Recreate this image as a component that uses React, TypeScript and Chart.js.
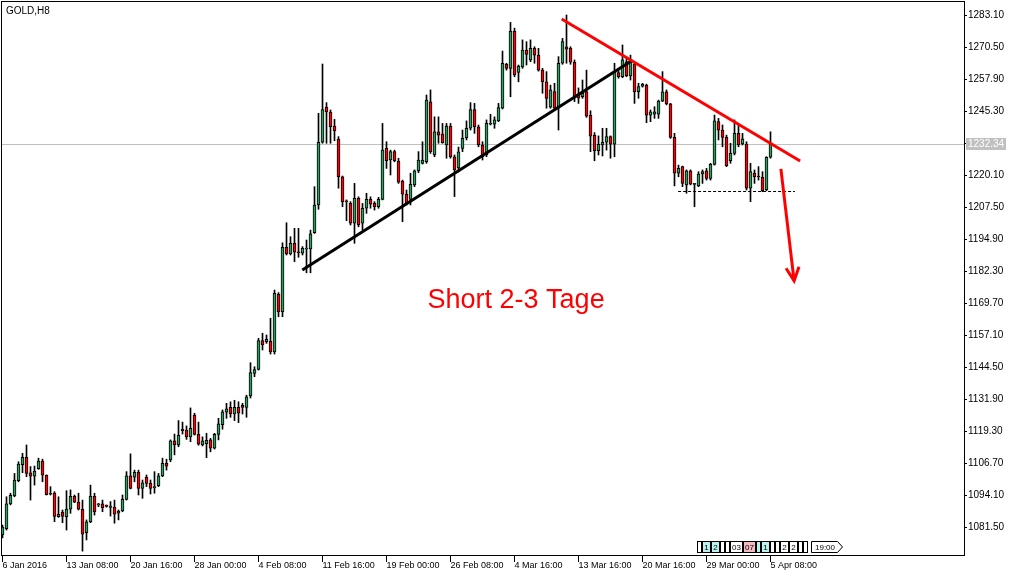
import React, { useEffect, useRef } from "react";
import { Chart, registerables } from "chart.js";

Chart.register(...registerables);

// ---- DATA (GOLD, H8 candles) ----
const symbolTitle = "GOLD,H8";

const opens = [
  1078.4, 1080.8, 1090.6, 1093.7, 1099.7, 1106.0, 1108.9, 1102.8, 1101.5, 1104.5,
  1107.5, 1101.9, 1094.4, 1094.9, 1085.6, 1087.4, 1085.6, 1088.5, 1093.6, 1091.3,
  1088.5, 1079.3, 1083.5, 1093.6, 1090.2, 1090.6, 1089.7, 1089.2, 1089.3, 1086.9,
  1087.8, 1092.4, 1101.6, 1101.1, 1103.0, 1096.7, 1101.1, 1098.7, 1097.0, 1097.8,
  1101.6, 1106.6, 1107.9, 1115.4, 1113.8, 1119.4, 1119.7, 1117.0, 1125.6, 1118.0,
  1113.8, 1114.3, 1115.8, 1112.5, 1118.0, 1121.8, 1126.7, 1128.6, 1126.0, 1128.6,
  1129.4, 1128.6, 1133.1, 1142.0, 1143.5, 1154.9, 1154.5, 1154.6, 1150.4, 1173.1,
  1166.3, 1191.6, 1189.0, 1193.2, 1189.8, 1189.3, 1190.9, 1191.0, 1197.4, 1208.3,
  1233.0, 1246.8, 1244.9, 1239.4, 1234.2, 1219.4, 1209.7, 1208.9, 1201.1, 1210.9,
  1201.1, 1207.0, 1210.5, 1208.9, 1207.6, 1210.5, 1230.6, 1226.0, 1229.3, 1225.6,
  1217.7, 1212.6, 1210.5, 1216.2, 1221.7, 1224.7, 1225.3, 1248.9, 1228.0, 1237.1,
  1236.2, 1231.9, 1239.4, 1227.3, 1222.9, 1230.6, 1234.8, 1238.5, 1245.9, 1239.1,
  1231.9, 1228.0, 1240.1, 1240.1, 1241.4, 1246.4, 1263.7, 1262.1, 1276.8, 1260.5,
  1262.7, 1269.3, 1265.4, 1270.0, 1267.3, 1261.4, 1256.8, 1246.8, 1252.9, 1246.4,
  1264.1, 1270.6, 1270.0, 1264.5, 1252.0, 1250.9, 1252.9, 1243.6, 1235.7, 1229.7,
  1231.9, 1233.0, 1235.2, 1232.2, 1260.4, 1258.8, 1264.7, 1259.1, 1263.8, 1252.9,
  1255.1, 1255.5, 1243.7, 1244.1, 1244.1, 1249.2, 1252.8, 1248.1, 1234.9, 1220.8,
  1223.4, 1216.2, 1221.7, 1216.4, 1215.8, 1220.5, 1221.7, 1218.8, 1224.3, 1241.1,
  1237.8, 1234.9, 1225.7, 1228.6, 1236.5, 1232.3, 1232.3, 1214.9, 1220.8, 1219.5,
  1219.2, 1214.2, 1227.1,
];

const highs = [
  1082.3, 1093.4, 1094.8, 1102.6, 1107.2, 1110.5, 1113.8, 1105.3, 1105.5, 1108.6,
  1108.2, 1102.0, 1097.4, 1095.4, 1093.4, 1088.2, 1095.8, 1096.1, 1094.1, 1094.8,
  1092.1, 1084.3, 1098.0, 1094.8, 1090.8, 1092.1, 1090.2, 1091.5, 1092.1, 1088.2,
  1094.1, 1103.3, 1110.3, 1103.9, 1103.9, 1100.0, 1102.0, 1100.0, 1103.3, 1102.6,
  1108.6, 1108.2, 1115.8, 1118.1, 1123.4, 1122.8, 1121.3, 1128.4, 1126.3, 1122.8,
  1117.0, 1118.4, 1116.4, 1118.4, 1124.3, 1127.6, 1130.2, 1130.8, 1131.4, 1130.8,
  1130.2, 1133.4, 1146.2, 1144.6, 1155.8, 1157.8, 1157.1, 1163.7, 1174.8, 1173.8,
  1193.4, 1201.3, 1195.8, 1199.1, 1199.1, 1191.9, 1194.5, 1198.4, 1215.5, 1244.4,
  1263.8, 1248.6, 1245.7, 1242.0, 1235.2, 1219.7, 1210.3, 1209.6, 1216.8, 1211.5,
  1208.9, 1212.9, 1211.5, 1209.6, 1211.3, 1240.4, 1233.2, 1229.9, 1229.9, 1226.7,
  1218.1, 1214.2, 1220.8, 1222.1, 1229.3, 1233.2, 1251.6, 1253.6, 1243.0, 1243.0,
  1240.4, 1240.4, 1240.4, 1228.0, 1231.1, 1237.8, 1241.4, 1248.6, 1248.3, 1239.8,
  1233.2, 1241.8, 1244.0, 1243.0, 1248.3, 1268.9, 1264.1, 1280.2, 1277.9, 1263.4,
  1273.3, 1272.6, 1273.3, 1270.6, 1270.0, 1262.1, 1260.8, 1255.5, 1256.2, 1266.7,
  1273.9, 1283.1, 1270.6, 1265.4, 1254.4, 1257.5, 1261.4, 1245.4, 1236.8, 1235.5,
  1238.5, 1238.5, 1235.5, 1264.1, 1261.4, 1271.3, 1266.4, 1267.3, 1264.1, 1256.2,
  1256.2, 1255.9, 1245.7, 1247.0, 1249.6, 1260.8, 1253.6, 1248.3, 1236.5, 1224.0,
  1223.6, 1222.1, 1222.1, 1216.8, 1221.4, 1222.1, 1222.7, 1224.7, 1243.7, 1242.4,
  1239.8, 1235.8, 1232.6, 1241.8, 1239.8, 1236.5, 1233.2, 1224.7, 1222.1, 1223.4,
  1221.4, 1227.3, 1237.1,
];

const lows = [
  1077.2, 1080.3, 1090.2, 1093.4, 1099.3, 1102.9, 1101.3, 1092.1, 1098.0, 1104.2,
  1099.3, 1094.1, 1094.1, 1083.6, 1085.3, 1083.2, 1080.3, 1086.9, 1091.1, 1088.2,
  1072.0, 1076.4, 1083.2, 1086.2, 1089.5, 1087.5, 1089.3, 1085.8, 1083.0, 1084.3,
  1087.5, 1092.1, 1096.5, 1099.3, 1094.1, 1092.8, 1097.4, 1094.5, 1094.8, 1097.4,
  1101.3, 1103.9, 1107.2, 1109.9, 1113.1, 1118.1, 1116.0, 1115.1, 1117.7, 1113.7,
  1113.4, 1108.8, 1111.1, 1112.2, 1115.8, 1120.0, 1124.3, 1124.7, 1123.4, 1122.6,
  1126.0, 1124.7, 1132.3, 1140.7, 1143.3, 1151.2, 1153.8, 1149.6, 1149.6, 1164.3,
  1164.3, 1188.6, 1188.6, 1186.0, 1187.7, 1188.6, 1181.6, 1181.6, 1197.1, 1206.6,
  1232.6, 1232.6, 1232.6, 1233.6, 1214.9, 1207.6, 1202.1, 1200.4, 1193.2, 1199.7,
  1198.4, 1205.0, 1207.0, 1206.3, 1207.0, 1210.3, 1222.7, 1220.1, 1225.3, 1216.8,
  1201.7, 1208.3, 1208.3, 1215.5, 1221.0, 1224.4, 1224.7, 1228.6, 1227.3, 1232.6,
  1232.6, 1226.7, 1226.7, 1211.6, 1221.3, 1229.3, 1233.9, 1237.8, 1236.5, 1231.2,
  1226.0, 1227.3, 1239.8, 1238.5, 1241.1, 1246.1, 1261.4, 1250.9, 1258.8, 1256.8,
  1262.1, 1263.4, 1264.7, 1264.1, 1261.0, 1252.3, 1246.4, 1246.4, 1246.1, 1237.8,
  1263.7, 1264.1, 1263.7, 1249.0, 1248.3, 1250.3, 1242.8, 1229.3, 1225.7, 1228.0,
  1227.6, 1229.9, 1226.7, 1227.3, 1258.2, 1258.4, 1258.8, 1257.5, 1248.3, 1250.3,
  1254.7, 1240.7, 1241.1, 1242.4, 1242.4, 1249.0, 1247.7, 1234.5, 1215.8, 1219.4,
  1215.5, 1212.9, 1216.2, 1207.6, 1215.5, 1216.8, 1218.1, 1218.1, 1224.0, 1233.9,
  1231.2, 1223.4, 1224.7, 1228.0, 1231.2, 1231.9, 1214.2, 1209.6, 1216.8, 1218.1,
  1213.5, 1213.9, 1226.7,
];

const closes = [
  1081.5, 1090.6, 1094.0, 1100.0, 1106.3, 1108.9, 1102.6, 1101.5, 1103.5, 1107.5,
  1101.9, 1094.2, 1094.8, 1085.7, 1086.5, 1085.7, 1088.6, 1093.6, 1091.3, 1088.5,
  1078.7, 1083.5, 1093.6, 1087.5, 1090.4, 1089.1, 1089.6, 1089.4, 1086.6, 1087.8,
  1092.4, 1101.6, 1096.7, 1103.0, 1096.7, 1098.9, 1098.7, 1096.7, 1097.2, 1101.6,
  1106.6, 1105.5, 1115.4, 1113.8, 1117.6, 1120.0, 1117.0, 1120.4, 1118.0, 1114.1,
  1115.4, 1115.6, 1112.5, 1118.0, 1122.1, 1126.8, 1128.0, 1126.0, 1128.6, 1126.3,
  1128.6, 1132.8, 1142.3, 1143.5, 1154.9, 1153.2, 1155.4, 1150.4, 1173.5, 1166.3,
  1191.6, 1189.0, 1193.2, 1189.7, 1189.5, 1191.2, 1191.0, 1196.9, 1208.3, 1233.0,
  1245.9, 1244.9, 1239.1, 1237.5, 1219.4, 1209.6, 1209.5, 1201.1, 1210.9, 1200.4,
  1207.0, 1210.5, 1208.6, 1207.6, 1210.5, 1229.9, 1225.7, 1229.3, 1225.7, 1217.3,
  1212.6, 1208.9, 1216.4, 1221.7, 1226.0, 1226.0, 1249.6, 1229.3, 1237.1, 1235.8,
  1232.8, 1239.4, 1227.3, 1222.1, 1229.2, 1234.5, 1238.5, 1245.9, 1239.1, 1231.9,
  1227.3, 1240.4, 1240.4, 1241.8, 1246.6, 1264.1, 1262.1, 1276.8, 1259.5, 1263.0,
  1269.3, 1267.6, 1270.0, 1267.3, 1261.4, 1256.8, 1250.3, 1253.6, 1246.4, 1264.1,
  1272.6, 1269.6, 1264.5, 1251.2, 1250.4, 1252.3, 1243.3, 1235.4, 1229.7, 1232.2,
  1233.0, 1235.2, 1232.2, 1260.8, 1258.8, 1265.4, 1259.1, 1265.7, 1252.9, 1254.9,
  1255.9, 1243.7, 1245.0, 1245.0, 1249.2, 1252.8, 1248.1, 1234.9, 1220.8, 1222.7,
  1216.8, 1221.7, 1216.5, 1216.5, 1220.5, 1221.4, 1218.8, 1224.3, 1241.4, 1237.8,
  1234.9, 1223.8, 1228.6, 1236.5, 1231.9, 1234.3, 1214.9, 1221.4, 1219.4, 1219.3,
  1213.9, 1227.1, 1232.34,
];

const timeLabels = [
  "6 Jan 2016", "13 Jan 08:00", "20 Jan 16:00", "28 Jan 00:00", "4 Feb 08:00",
  "11 Feb 16:00", "19 Feb 00:00", "26 Feb 08:00", "4 Mar 16:00", "13 Mar 16:00",
  "20 Mar 16:00", "29 Mar 00:00", "5 Apr 08:00",
];
const timeLabelBars = [0, 16, 32, 48, 64, 80, 96, 112, 128, 144, 160, 176, 192];

const priceTicks = [
  1081.5, 1094.1, 1106.7, 1119.3, 1131.9, 1144.5, 1157.1, 1169.7, 1182.3,
  1194.9, 1207.5, 1220.1, 1232.7, 1245.3, 1257.9, 1270.5, 1283.1,
];
const lastPrice = 1232.34;

// hand-drawn annotations, in [bar index, price]
const supportLine = [[74.95, 1182.7], [157.3, 1265.1]];
const resistanceLine = [[139.8, 1281.5], [199.4, 1225.6]];
const arrowLine = [[194.6, 1222.5], [197.9, 1178.4]];
const levelLine = [[168.9, 1213.8], [198.1, 1213.8]];
const noteText = "Short 2-3 Tage";
const notePos = [128.4, 1170.5];

// ---- STYLE ----
const GREEN = "#2EA05E";
const RED = "#FF0000";
const FONT = "Liberation Sans";

const overlayPlugin = {
  id: "mtOverlay",
  beforeDatasetsDraw(chart: any) {
    const { ctx, chartArea: a, scales } = chart;
    const py = Math.round(scales.y.getPixelForValue(lastPrice)) + 0.5;
    ctx.save();
    ctx.strokeStyle = "#C0C0C0";
    ctx.lineWidth = 1;
    ctx.beginPath();
    ctx.moveTo(a.left, py);
    ctx.lineTo(a.right, py);
    ctx.stroke();
    ctx.restore();
  },
  afterDatasetsDraw(chart: any) {
    const { ctx, scales } = chart;
    const P = (pt: number[]) => [scales.x.getPixelForValue(pt[0]), scales.y.getPixelForValue(pt[1])];
    const seg = (pts: number[][], color: string, w: number) => {
      const p0 = P(pts[0]);
      const p1 = P(pts[1]);
      ctx.save();
      ctx.strokeStyle = color;
      ctx.lineWidth = w;
      ctx.lineCap = "butt";
      ctx.beginPath();
      ctx.moveTo(p0[0], p0[1]);
      ctx.lineTo(p1[0], p1[1]);
      ctx.stroke();
      ctx.restore();
    };
    // dashed level
    {
      const p0 = P(levelLine[0]);
      const p1 = P(levelLine[1]);
      const yy = Math.round(p0[1]) + 0.5;
      ctx.save();
      ctx.strokeStyle = "#000";
      ctx.lineWidth = 1;
      ctx.setLineDash([3, 2]);
      ctx.beginPath();
      ctx.moveTo(p0[0], yy);
      ctx.lineTo(p1[0], yy);
      ctx.stroke();
      ctx.restore();
    }
    seg(supportLine, "#000", 3);
    seg(resistanceLine, RED, 3);
    seg(arrowLine, RED, 3);
    // arrow head
    {
      const s = P(arrowLine[0]);
      const t = P(arrowLine[1]);
      const ang = Math.atan2(t[1] - s[1], t[0] - s[0]);
      const L = 15;
      const spread = 0.45;
      ctx.save();
      ctx.strokeStyle = RED;
      ctx.lineWidth = 3;
      ctx.beginPath();
      ctx.moveTo(t[0] - L * Math.cos(ang - spread), t[1] - L * Math.sin(ang - spread));
      ctx.lineTo(t[0], t[1]);
      ctx.lineTo(t[0] - L * Math.cos(ang + spread), t[1] - L * Math.sin(ang + spread));
      ctx.stroke();
      ctx.restore();
    }
    // note text
    {
      const p = P(notePos);
      ctx.save();
      ctx.fillStyle = RED;
      ctx.font = `27px "${FONT}"`;
      ctx.textAlign = "center";
      ctx.textBaseline = "middle";
      ctx.fillText(noteText, p[0], p[1]);
      ctx.restore();
    }
  },
  afterDraw(chart: any) {
    const { ctx, chartArea: a, scales } = chart;
    ctx.save();
    // frame
    ctx.strokeStyle = "#000";
    ctx.lineWidth = 1;
    ctx.strokeRect(a.left - 0.5, a.top - 0.5, a.right - a.left + 1, a.bottom - a.top + 1);
    // title
    ctx.fillStyle = "#000";
    ctx.font = `10px "${FONT}"`;
    ctx.textAlign = "left";
    ctx.textBaseline = "middle";
    ctx.fillText(symbolTitle, 6, 11);
    // current price label
    const py = Math.round(scales.y.getPixelForValue(lastPrice)) + 0.5;
    ctx.fillStyle = "#C0C0C0";
    ctx.fillRect(a.right + 2, Math.round(py - 6.5), 40, 12);
    ctx.fillStyle = "#FFFFFF";
    ctx.font = `10px "${FONT}"`;
    ctx.fillText(lastPrice.toFixed(2), a.right + 4, py);
    // MT5 navigation widget (bottom right)
    const boxes: any[] = [
      { x: 697, w: 4 }, { x: 702, w: 8, t: "1", bg: "#BDEFEF" }, { x: 711, w: 8, t: "2", bg: "#BDEFEF" },
      { x: 720, w: 4 }, { x: 725, w: 4 }, { x: 730, w: 12, t: "03" }, { x: 743, w: 12, t: "07", bg: "#F4B8C0" },
      { x: 756, w: 4, bg: "#BDEFEF" }, { x: 761, w: 8, t: "1", bg: "#BDEFEF" }, { x: 770, w: 4 },
      { x: 775, w: 4 }, { x: 780, w: 8, t: "2" }, { x: 789, w: 8, t: "2" }, { x: 798, w: 4 }, { x: 803, w: 4 },
    ];
    const by = 541.5;
    const bh = 11;
    ctx.font = `8px "${FONT}"`;
    ctx.textAlign = "center";
    for (const b of boxes) {
      ctx.fillStyle = b.bg || "#FFFFFF";
      ctx.fillRect(b.x + 0.5, by, b.w, bh);
      ctx.strokeStyle = "#000";
      ctx.strokeRect(b.x + 0.5, by, b.w, bh);
      if (b.t) {
        ctx.fillStyle = "#000";
        ctx.fillText(b.t, b.x + 0.5 + b.w / 2, by + bh / 2 + 0.5);
      }
    }
    ctx.fillStyle = "#FFFFFF";
    ctx.beginPath();
    ctx.moveTo(811.5, by);
    ctx.lineTo(837.5, by);
    ctx.lineTo(842.5, by + bh / 2);
    ctx.lineTo(837.5, by + bh);
    ctx.lineTo(811.5, by + bh);
    ctx.closePath();
    ctx.fill();
    ctx.stroke();
    ctx.fillStyle = "#000";
    ctx.fillText("19:00", 825, by + bh / 2 + 0.5);
    ctx.restore();
  },
};

export default function App() {
  const ref = useRef<HTMLCanvasElement | null>(null);

  useEffect(() => {
    if (!ref.current) return;
    const bodies = opens.map((o, i) => ({ x: i, y: [Math.min(o, closes[i]), Math.max(o, closes[i])] }));
    const wicks = opens.map((_, i) => ({ x: i, y: [lows[i], highs[i]] }));
    const bodyColors = opens.map((o, i) => (closes[i] >= o ? GREEN : RED));

    const chart = new Chart(ref.current, {
      type: "bar",
      data: {
        datasets: [
          {
            data: bodies as any,
            backgroundColor: bodyColors,
            borderColor: "#000",
            borderWidth: 1,
            borderSkipped: false,
            barThickness: 3,
            minBarLength: 1,
            grouped: false,
          } as any,
          {
            data: wicks as any,
            backgroundColor: "#000",
            borderWidth: 0,
            barThickness: 1,
            grouped: false,
          } as any,
        ],
      },
      options: {
        responsive: false,
        animation: false,
        devicePixelRatio: 1,
        layout: { padding: { left: 2, top: 2, right: 0, bottom: 0 } },
        plugins: {
          legend: { display: false },
          tooltip: { enabled: false },
        },
        scales: {
          x: {
            type: "linear",
            offset: false,
            min: -0.125,
            max: 240.375,
            grid: { drawOnChartArea: false, drawTicks: true, tickLength: 7, color: "#000", offset: false },
            border: { display: false },
            ticks: {
              autoSkip: false,
              maxRotation: 0,
              minRotation: 0,
              align: "start",
              padding: -2,
              color: "#000",
              font: { family: FONT, size: 9 },
              callback: (v: any) => {
                const i = timeLabelBars.indexOf(Number(v));
                return i >= 0 ? timeLabels[i] : "";
              },
            },
            afterBuildTicks: (s: any) => {
              s.ticks = timeLabelBars.map((v) => ({ value: v }));
            },
            afterFit: (s: any) => {
              s.height = 23;
              s.paddingLeft = 0;
              s.paddingRight = 0;
            },
          } as any,
          y: {
            position: "right",
            min: 1070.475,
            max: 1288.219,
            stacked: false,
            grid: { drawOnChartArea: false, drawTicks: true, tickLength: 3, color: "#000" },
            border: { display: false },
            ticks: {
              padding: 1,
              color: "#000",
              font: { family: FONT, size: 10 },
              callback: (v: any) => Number(v).toFixed(2),
            },
            afterBuildTicks: (s: any) => {
              s.ticks = priceTicks.map((v) => ({ value: v }));
            },
            afterFit: (s: any) => {
              s.width = 53;
              s.paddingTop = 0;
              s.paddingBottom = 0;
            },
          } as any,
        },
      },
      plugins: [overlayPlugin],
    });
    return () => chart.destroy();
  }, []);

  return (
    <div style={{ position: "absolute", left: 0, top: 0, width: 1017, height: 578, background: "#fff" }}>
      <canvas ref={ref} width={1017} height={578} style={{ display: "block", width: 1017, height: 578 }} />
    </div>
  );
}
